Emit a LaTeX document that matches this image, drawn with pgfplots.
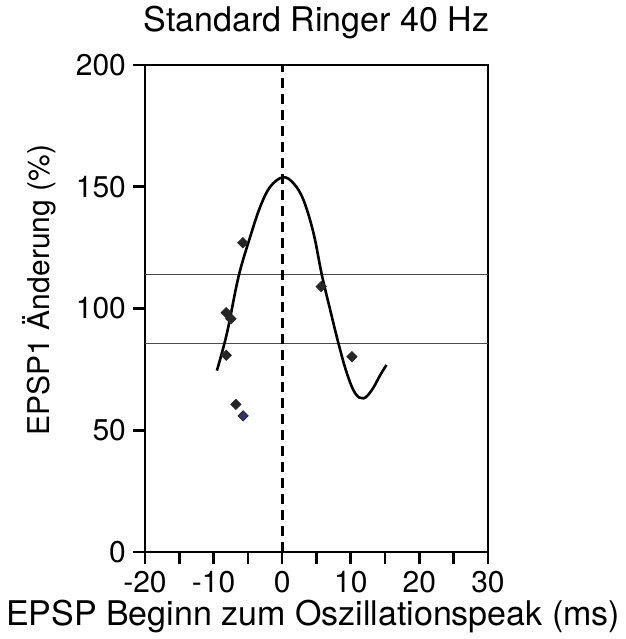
\documentclass[border=0pt]{standalone}
\usepackage{pgfplots}
\pgfplotsset{compat=1.18}
\usepackage{fontspec}
\setmainfont{TeX Gyre Heros}
\begin{document}
\begin{tikzpicture}
\useasboundingbox (-72.5pt,-43.5pt) rectangle (240.5pt,276pt);
\begin{axis}[
  at={(0,0)}, anchor=south west,
  scale only axis, width=171.5pt, height=243.5pt,
  xmin=-20, xmax=30, ymin=0, ymax=200,
  xtick={-20,-10,...,30}, minor xtick={-15,-5,...,25},
  ytick={0,50,...,200},
  tick align=outside, xtick pos=bottom, ytick pos=left,
  major tick length=6pt, minor tick length=6pt,
  axis line style={line width=1.3pt},
  every tick/.style={line width=1.3pt, black},
  every minor tick/.style={line width=1.3pt, black},
  /pgf/number format/assume math mode=true,
  ticklabel style={font=\fontsize{15}{18}\selectfont},
  title={Standard Ringer 40 Hz},
  title style={font=\fontsize{17}{20}\selectfont, at={(rel axis cs:0.5,1)}, anchor=base, yshift=11pt},
  xlabel={EPSP Beginn zum Oszillationspeak (ms)},
  xlabel style={font=\fontsize{17}{20}\selectfont, at={(rel axis cs:0.49,0)}, anchor=base, yshift=-36.5pt},
  ylabel={EPSP1 Änderung (\%)},
  ylabel style={font=\fontsize{15}{18}\selectfont, at={(rel axis cs:-0.277,0.538)}, anchor=base},
  clip=false,
]
% reference lines
\addplot[draw=black!70, line width=0.5pt] coordinates {(-20,113.8) (30,113.8)};
\addplot[draw=black!70, line width=0.5pt] coordinates {(-20,85.6) (30,85.6)};
\addplot[black, line width=1.6pt, dash pattern=on 5pt off 3pt] coordinates {(0,0) (0,200)};
% fitted curve
\addplot[black, line width=1.3pt, smooth, tension=0.6] coordinates {
(-9.52,74.5) (-8.06,89.8) (-6.37,113) (-4.66,129.5) (-3.2,141.8) (-1.75,150)
(0.1,153.9) (1.65,151.4) (3.1,144.6) (4.57,130.9) (5.78,113.8) (7.0,99.4)
(8.2,85.7) (9.43,73.4) (10.64,65.2) (11.85,63.1) (13.07,66.5) (14.3,72.7) (15.2,76.8)
};
% data points
\addplot[only marks, mark=square*, mark size=1.8pt, mark options={rotate=45, fill=black!85, draw=black!85}] coordinates {
(-5.73,127.0) (-8.16,98.3) (-7.48,95.8) (-8.16,80.8) (-6.75,60.6) (5.69,109.0) (10.16,80.2)
};
\addplot[only marks, mark=square*, mark size=1.8pt, mark options={rotate=45, fill={rgb,255:red,50;green,50;blue,110}, draw=black!85}] coordinates {
(-5.69,55.9)
};
\end{axis}
\end{tikzpicture}
\end{document}
